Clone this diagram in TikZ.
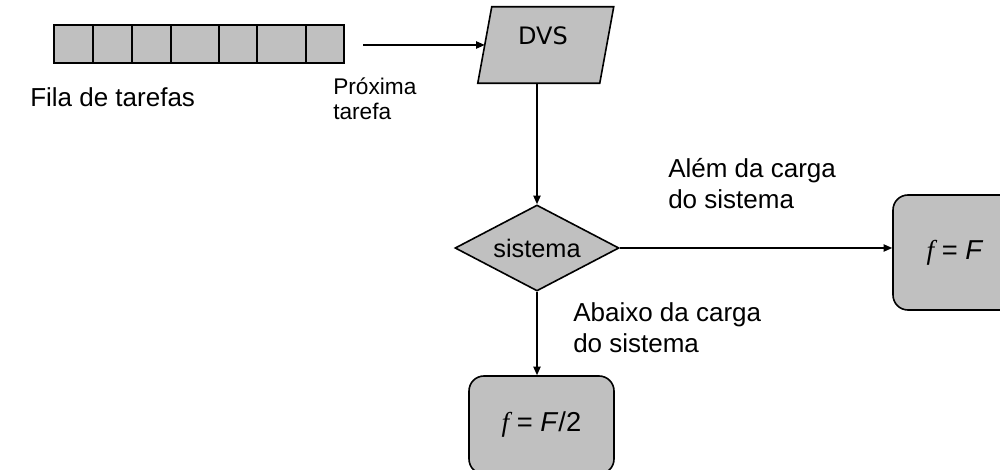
\documentclass[tikz,border=0pt]{standalone}
\usepackage{fontspec}
\setmainfont{Liberation Sans}
\newfontfamily\dvsfont{DejaVu Sans}
\newfontfamily\seriffont{Liberation Serif}
\usetikzlibrary{shapes.geometric,arrows.meta,calc}

\definecolor{boxgray}{HTML}{C0C0C0}
\tikzset{
  shapeline/.style={draw=black, line width=1.2pt, fill=boxgray},
  cell/.style={shapeline, line width=1.5pt, rectangle, inner sep=0pt, minimum height=28.5pt},
  dvsarea/.style={rectangle, inner sep=0pt, minimum width=91.1pt, minimum height=57pt},
  decision/.style={shapeline, diamond, aspect=1.9, inner sep=0pt,
    minimum width=123pt, minimum height=64.5pt, font=\fontsize{19}{22}\selectfont},
  freqbox/.style={shapeline, rectangle, rounded corners=11.25pt, inner sep=0pt,
    font=\fontsize{20.5}{24}\selectfont},
  conn/.style={line width=1.1pt, -{Triangle[length=6.5pt,width=5.5pt]}},
  biglabel/.style={anchor=base west, align=left, inner sep=0pt,
    font=\fontsize{19.5}{23.5}\selectfont},
  smalllabel/.style={anchor=base west, align=left, inner sep=0pt,
    font=\fontsize{17}{19}\selectfont}
}

\begin{document}
\begin{tikzpicture}[x=0.75pt, y=-0.75pt]
  \useasboundingbox (0,0) rectangle (1000,470);
  \clip (0,0) rectangle (1000,470);

  % task queue cells
  \node[cell, minimum width=29.25pt] (q1) at (73.5,44) {};
  \node[cell, minimum width=29.25pt] (q2) at (112.5,44) {};
  \node[cell, minimum width=29.25pt] (q3) at (151.5,44) {};
  \node[cell, minimum width=36pt] (q4) at (195,44) {};
  \node[cell, minimum width=28.5pt] (q5) at (238,44) {};
  \node[cell, minimum width=36.75pt] (q6) at (281.5,44) {};
  \node[cell, minimum width=28.5pt] (q7) at (325,44) {};
  \node[biglabel] (fila) at (30,107) {Fila de tarefas};

  % DVS input block: a slanted parallelogram around the node area
  \node[dvsarea] (dvs) at (545.75,45) {};
  \draw[shapeline] ($(dvs.south west)+(-7,0)$) -- ($(dvs.north west)+(7,0)$)
    -- ($(dvs.north east)+(7,0)$) -- ($(dvs.south east)+(-7,0)$) -- cycle;
  \node[font=\dvsfont\fontsize{18}{22}\selectfont, inner sep=0pt] (dvstext) at (543,36) {DVS};

  % decision
  \node[decision] (sis) at (537,248) {sistema};

  % frequency outcomes
  \node[freqbox, minimum width=93pt, minimum height=86.25pt] (ff) at (955,252.5)
    {{\seriffont\itshape f} = \textit{F}};
  \node[freqbox, minimum width=108.75pt, minimum height=73.5pt] (ff2) at (541.5,425)
    {{\seriffont\itshape f} = \textit{F}/2};

  % connectors
  \coordinate (qout) at (363,45);
  \draw[conn] (qout) -- (dvs);
  \node[smalllabel] (prox) at (333,120) {Próxima\\tarefa};
  \draw[conn] (dvs.south -| sis.north) -- (sis.north);
  \draw[conn] (sis.east) -- (sis.east -| ff.west);
  \draw[conn] (sis.south) -- (sis.south |- ff2.north);

  % branch labels (anchored at the baseline of the last line)
  \node[biglabel] (alem) at (668,209) {Além da carga\\do sistema};
  \node[biglabel] (abaixo) at (573,353) {Abaixo da carga\\do sistema};
\end{tikzpicture}
\end{document}
